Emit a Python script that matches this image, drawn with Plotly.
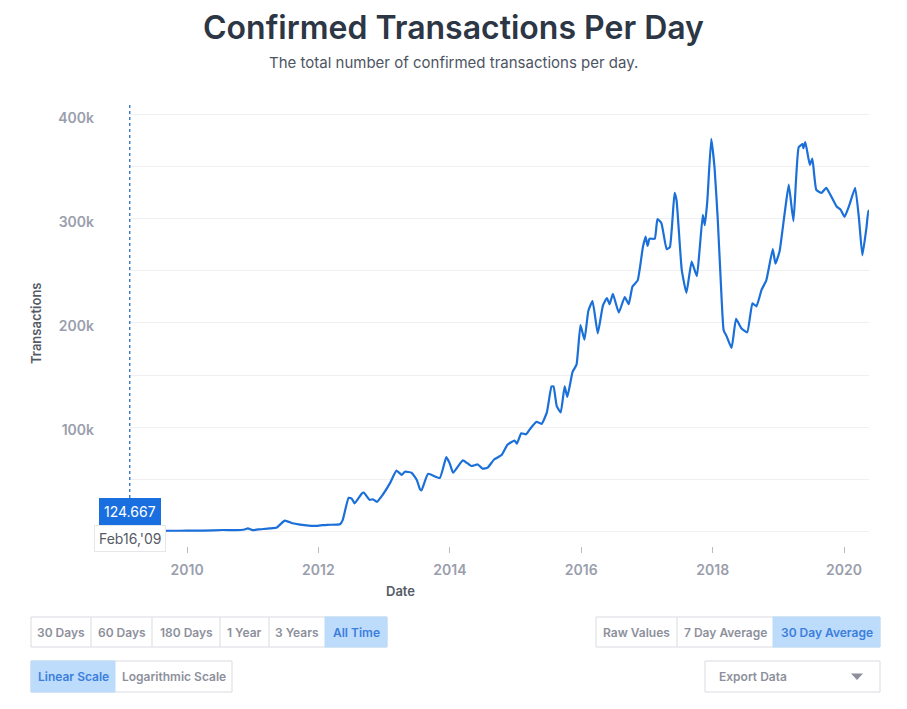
import plotly.graph_objects as go

# ---------------- data (30 day average) ----------------
dates = [
    "2009-02-16", "2009-06-01", "2009-10-01", "2010-01-01", "2010-04-01", "2010-07-20",
    "2010-10-01", "2010-11-17", "2010-12-05", "2010-12-31", "2011-02-01", "2011-04-05",
    "2011-05-15", "2011-06-28", "2011-08-10", "2011-10-26", "2011-12-24", "2012-02-17",
    "2012-04-30", "2012-05-15", "2012-06-17", "2012-07-05", "2012-07-20", "2012-08-29",
    "2012-09-09", "2012-10-12", "2012-10-30", "2012-11-21", "2012-12-16", "2013-02-02",
    "2013-03-10", "2013-04-08", "2013-04-26", "2013-06-02", "2013-07-01", "2013-07-19",
    "2013-07-27", "2013-09-02", "2013-11-06", "2013-12-12", "2013-12-31", "2014-01-19",
    "2014-03-14", "2014-04-30", "2014-06-05", "2014-07-01", "2014-07-30", "2014-09-05",
    "2014-10-15", "2014-11-17", "2014-12-27", "2015-01-08", "2015-02-02", "2015-02-28",
    "2015-03-22", "2015-04-27", "2015-05-26", "2015-06-24", "2015-07-20", "2015-07-31",
    "2015-08-18", "2015-09-09", "2015-10-01", "2015-10-16", "2015-11-14", "2015-12-06",
    "2015-12-28", "2016-01-19", "2016-02-10", "2016-03-04", "2016-04-02", "2016-05-01",
    "2016-05-23", "2016-06-07", "2016-06-25", "2016-07-28", "2016-08-30", "2016-09-21",
    "2016-10-12", "2016-11-10", "2016-12-09", "2016-12-24", "2017-01-04", "2017-01-15",
    "2017-02-13", "2017-02-28", "2017-03-22", "2017-04-20", "2017-05-08", "2017-06-03",
    "2017-06-14", "2017-07-13", "2017-08-08", "2017-09-06", "2017-10-05", "2017-10-20",
    "2017-11-07", "2017-11-18", "2017-12-02", "2017-12-24", "2018-01-11", "2018-01-29",
    "2018-02-20", "2018-03-03", "2018-03-20", "2018-04-16", "2018-05-11", "2018-06-09",
    "2018-07-12", "2018-08-10", "2018-09-01", "2018-09-30", "2018-10-26", "2018-12-01",
    "2018-12-16", "2019-01-08", "2019-01-26", "2019-02-10", "2019-02-28", "2019-03-26",
    "2019-04-24", "2019-05-16", "2019-05-20", "2019-05-31", "2019-06-25", "2019-07-09",
    "2019-07-31", "2019-08-29", "2019-09-24", "2019-10-12", "2019-11-21", "2019-12-13",
    "2020-01-04", "2020-01-30", "2020-03-03", "2020-03-25", "2020-04-12", "2020-05-05",
    "2020-05-15", "2020-05-18",
]
transactions = [
    125, 200, 250, 300, 400, 1000,
    800, 1500, 2500, 800, 1500, 2500,
    3500, 10000, 7500, 5500, 5000, 6000,
    6500, 10500, 32000, 31000, 26500, 36000,
    37000, 30000, 30500, 28000, 33000, 46000,
    58000, 54000, 57000, 56000, 49000, 40000,
    39000, 55000, 51000, 71000, 65000, 56000,
    68000, 62500, 64000, 60000, 61000, 69000,
    73000, 83000, 87000, 84000, 94000, 93000,
    98000, 105000, 103000, 114000, 139000, 139000,
    120000, 114000, 139000, 129000, 153000, 160000,
    198000, 184000, 212000, 221000, 190000, 217000,
    224000, 218000, 228000, 210000, 225000, 218000,
    235000, 241000, 273000, 283000, 274000, 281000,
    281000, 300000, 296000, 271000, 273000, 325000,
    318000, 251000, 229000, 259000, 245000, 270000,
    304000, 294000, 317000, 377000, 350000, 300000,
    222000, 193000, 187000, 176000, 204000, 195000,
    191000, 219000, 216000, 232000, 241000, 271000,
    257000, 269000, 292000, 312000, 333000, 298000,
    369000, 372000, 368000, 374000, 352000, 358000,
    328000, 325000, 330000, 325000, 312000, 309000,
    302000, 313000, 330000, 299000, 265000, 292000,
    308000, 305000,
]

y_tick_values = [0, 50000, 100000, 150000, 200000, 250000, 300000, 350000, 400000]
y_tick_labels = ["", "", "100k", "", "200k", "", "300k", "", "400k"]
x_tick_values = ["2010-01-01", "2012-01-01", "2014-01-01", "2016-01-01", "2018-01-01", "2020-01-01"]
x_tick_labels = ["2010", "2012", "2014", "2016", "2018", "2020"]

hover_date = "2009-02-16"
hover_value_text = "124.667"
hover_date_text = "Feb16,'09"

range_buttons = ["30 Days", "60 Days", "180 Days", "1 Year", "3 Years", "All Time"]
scale_buttons = ["Linear Scale", "Logarithmic Scale"]
avg_buttons = ["Raw Values", "7 Day Average", "30 Day Average"]

# ---------------- layout geometry ----------------
W, H = 907, 709
L, R, T, B = 129, 38, 103, 163
PW, PH = W - L - R, H - T - B
FONT = "Inter"


def px(x):
    return (x - L) / PW


def py(y):
    return (H - B - y) / PH


fig = go.Figure()
fig.add_trace(go.Scatter(
    x=dates, y=transactions, mode="lines",
    line=dict(color="#1a6fd9", width=2.2, shape="spline", smoothing=0.4), hoverinfo="skip", showlegend=False,
))

shapes = []
annotations = []


def note(x, y, text, xref="paper", **kw):
    d = dict(xref=xref, yref="paper", x=x, y=y, text=text, showarrow=False,
             xanchor=kw.pop("xanchor", "center"), yanchor=kw.pop("yanchor", "middle"))
    d.update(kw)
    annotations.append(d)


# hover crosshair
shapes.append(dict(type="line", xref="x", yref="paper", x0=hover_date, x1=hover_date,
                   y0=0, y1=1, line=dict(color="#3f7fc4", width=1.5, dash="3px,3px")))
note(hover_date, py(538), hover_date_text, xref="x", bgcolor="white", bordercolor="#e6e7eb", borderwidth=1,
     borderpad=4, font=dict(family=FONT, size=14, color="#555b66"))
note(hover_date, py(511), hover_value_text, xref="x", bgcolor="#1a6fe0", bordercolor="#1a6fe0", borderwidth=1,
     borderpad=4, font=dict(family=FONT, size=14, color="white"))

# titles
note(px(453.5), py(27), "Confirmed Transactions Per Day",
     font=dict(family=FONT, size=32, color="#2c3644", weight=600))
note(px(453.5), py(62), "The total number of confirmed transactions per day.",
     font=dict(family=FONT, size=15, color="#4d5563"))
note(px(36), py(323), "Transactions", textangle=-90,
     font=dict(family=FONT, size=13, color="#555b66", weight=600))
note(px(400), py(591), "Date", font=dict(family=FONT, size=13, color="#555b66", weight=600))

BORDER = "#d9dbe0"
ACTIVE_BG = "#bddbfb"
ACTIVE_TX = "#3b7fdb"
IDLE_TX = "#8d909c"


def button_group(labels, edges, y0, y1, active):
    shapes.append(dict(type="rect", xref="paper", yref="paper", x0=px(edges[0]), x1=px(edges[-1]),
                       y0=py(y1), y1=py(y0), line=dict(color=BORDER, width=1), fillcolor="white", layer="below"))
    for i, lab in enumerate(labels):
        a, b = edges[i], edges[i + 1]
        if i == active:
            shapes.append(dict(type="rect", xref="paper", yref="paper", x0=px(a), x1=px(b),
                               y0=py(y1), y1=py(y0), line=dict(color=ACTIVE_BG, width=1), fillcolor=ACTIVE_BG))
        elif i > 0 and i - 1 != active:
            shapes.append(dict(type="line", xref="paper", yref="paper", x0=px(a), x1=px(a),
                               y0=py(y1), y1=py(y0), line=dict(color=BORDER, width=1)))
        note(px((a + b) / 2), py((y0 + y1) / 2), lab,
             font=dict(family=FONT, size=12, color=ACTIVE_TX if i == active else IDLE_TX, weight=600))


button_group(range_buttons, [31, 91, 152, 220, 269, 325, 387], 617, 647, 5)
button_group(scale_buttons, [31, 115, 232], 661, 692, 0)
button_group(avg_buttons, [596, 677, 773, 880], 617, 647, 2)

# export dropdown
shapes.append(dict(type="rect", xref="paper", yref="paper", x0=px(705), x1=px(880), y0=py(692), y1=py(661),
                   line=dict(color=BORDER, width=1), fillcolor="white"))
note(px(717), py(676.5), "Export Data", xanchor="left",
     font=dict(family=FONT, size=12, color=IDLE_TX, weight=600))
shapes.append(dict(type="path", xref="paper", yref="paper",
                   path=f"M {px(851)} {py(673.5)} L {px(863)} {py(673.5)} L {px(857)} {py(680)} Z",
                   fillcolor="#8d909c", line=dict(width=0)))

fig.update_layout(
    width=W, height=H, margin=dict(l=L, r=R, t=T, b=B),
    paper_bgcolor="white", plot_bgcolor="white",
    shapes=shapes, annotations=annotations, showlegend=False,
    xaxis=dict(type="date", range=["2009-02-12", "2020-05-19"], tickvals=x_tick_values, ticktext=x_tick_labels,
               showgrid=False, zeroline=False, showline=False, ticks="outside", ticklen=6, tickwidth=1,
               ticklabelstandoff=5,
               tickcolor="#b8bac2", tickfont=dict(family=FONT, size=14, color="#9a9eac", weight=600)),
    yaxis=dict(range=[-14400, 411500], tickvals=y_tick_values, ticktext=y_tick_labels,
               showgrid=True, gridcolor="#f0f0f2", gridwidth=1, zeroline=False, showline=False,
               ticks="", ticklabelstandoff=34, ticklabelshift=3,
               tickfont=dict(family=FONT, size=14, color="#9a9eac", weight=600)),
)

fig.write_html("out.html")
